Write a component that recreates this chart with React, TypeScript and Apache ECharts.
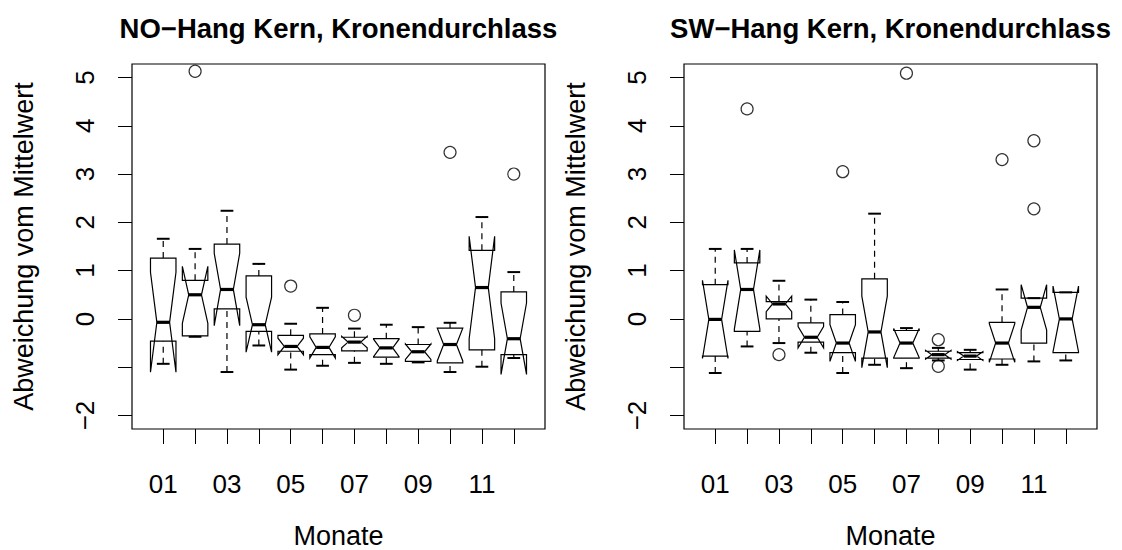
import React, { useEffect, useRef } from "react";
import * as echarts from "echarts";

// ---------- data ----------
const months = ["01", "02", "03", "04", "05", "06", "07", "08", "09", "10", "11", "12"];

// NO-Hang panel
const noLow = [-0.93, -0.37, -1.1, -0.55, -1.05, -0.97, -0.91, -0.93, -0.9, -1.1, -0.99, -0.81];
const noQ1 = [-0.46, -0.35, 0.21, -0.26, -0.67, -0.74, -0.66, -0.79, -0.88, -0.91, -0.64, -0.74];
const noMed = [-0.07, 0.5, 0.61, -0.12, -0.57, -0.59, -0.48, -0.6, -0.68, -0.53, 0.65, -0.41];
const noQ3 = [1.26, 0.8, 1.55, 0.89, -0.34, -0.31, -0.38, -0.41, -0.53, -0.19, 1.42, 0.56];
const noHigh = [1.66, 1.45, 2.24, 1.14, -0.1, 0.23, -0.2, -0.12, -0.17, -0.08, 2.11, 0.97];
const noNotch = [1.035, 0.59, 0.75, 0.57, 0.17, 0.22, 0.12, 0.18, 0.16, 0.34, 1.06, 0.74];
const noOutliers = [
  [2, 5.13],
  [5, 0.68],
  [7, 0.075],
  [10, 3.45],
  [12, 3.0],
];

// SW-Hang panel
const swLow = [-1.12, -0.57, -0.5, -0.7, -1.12, -0.95, -1.02, -0.86, -1.05, -0.95, -0.88, -0.86];
const swQ1 = [-0.77, -0.26, 0.0, -0.48, -0.7, -0.81, -0.81, -0.81, -0.84, -0.83, -0.5, -0.7];
const swMed = [-0.01, 0.61, 0.31, -0.38, -0.5, -0.27, -0.5, -0.74, -0.77, -0.5, 0.24, 0.0];
const swQ3 = [0.71, 1.16, 0.36, -0.08, 0.09, 0.83, -0.24, -0.67, -0.7, -0.07, 0.43, 0.55];
const swHigh = [1.45, 1.45, 0.79, 0.4, 0.35, 2.18, -0.19, -0.6, -0.64, 0.61, 0.43, 0.55];
const swNotch = [0.81, 0.82, 0.16, 0.22, 0.38, 0.74, 0.3, 0.09, 0.09, 0.4, 0.47, 0.68];
const swOutliers = [
  [2, 4.35],
  [3, -0.74],
  [5, 3.05],
  [7, 5.09],
  [8, -0.43],
  [8, -0.98],
  [10, 3.3],
  [11, 3.69],
  [11, 2.28],
];

// ticks / labels
const xTickValues = [1, 2, 3, 4, 5, 6, 7, 8, 9, 10, 11, 12];
const xLabelValues = [1, 3, 5, 7, 9, 11];
const yTickValues = [-2, -1, 0, 1, 2, 3, 4, 5];
const yLabelValues = [-2, 0, 1, 2, 3, 4, 5];

const titles = ["NO\u2212Hang Kern, Kronendurchlass", "SW\u2212Hang Kern, Kronendurchlass"];
const xTitle = "Monate";
const yTitle = "Abweichung vom Mittelwert";

// ---------- helpers ----------
const FONT = "'Liberation Sans', Arial, Helvetica, sans-serif";
const TICK_FS = 26;
const LAB_FS = 27;

function boxData(low: number[], q1: number[], med: number[], q3: number[], high: number[], notch: number[]) {
  return months.map((_, i) => [i + 1, low[i], q1[i], med[i], q3[i], high[i], notch[i]]);
}

const LW = 1.2;

function renderBox(params: any, api: any) {
  const x = api.value(0);
  const lo = api.value(1);
  const q1 = api.value(2);
  const md = api.value(3);
  const q3 = api.value(4);
  const hi = api.value(5);
  const nh = api.value(6);
  const cLo = md - nh;
  const cHi = md + nh;
  const w = 0.4;
  const nf = 0.5;
  const sw = 0.5;
  const P = (dx: number, v: number) => api.coord([x + dx * w, v]);
  const line = (a: number[], b: number[], lw: number, dash?: number[]) => ({
    type: "line",
    shape: { x1: a[0], y1: a[1], x2: b[0], y2: b[1] },
    style: dash
      ? { stroke: "#000", lineWidth: lw, lineDash: dash }
      : { stroke: "#000", lineWidth: lw },
  });
  const poly = [
    P(-1, q1), P(1, q1), P(1, cLo), P(nf, md), P(1, cHi),
    P(1, q3), P(-1, q3), P(-1, cHi), P(-nf, md), P(-1, cLo),
  ];
  return {
    type: "group",
    children: [
      line(P(0, lo), P(0, q1), LW, [6, 5]),
      line(P(0, q3), P(0, hi), LW, [6, 5]),
      line(P(-sw, lo), P(sw, lo), 2),
      line(P(-sw, hi), P(sw, hi), 2),
      {
        type: "polygon",
        shape: { points: poly },
        style: { fill: "rgba(0,0,0,0)", stroke: "#000", lineWidth: LW },
      },
      line(P(-nf, md), P(nf, md), 3.2),
    ],
  };
}

const GRIDS = [
  { left: 132, top: 64, width: 413, height: 365 },
  { left: 684, top: 64, width: 413, height: 365 },
];

function axisPair(i: number) {
  const x = {
    type: "value",
    gridIndex: i,
    position: "bottom",
    min: 0.02,
    max: 12.98,
    axisLine: { show: false, onZero: false },
    splitLine: { show: false },
    axisTick: {
      show: true,
      length: 15,
      inside: false,
      customValues: xTickValues,
      lineStyle: { color: "#000", width: 1 },
    },
    axisLabel: {
      show: true,
      customValues: xLabelValues,
      formatter: (v: number) => months[Math.round(v) - 1] || "",
      color: "#000",
      fontFamily: FONT,
      fontSize: TICK_FS,
      margin: 42,
    },
  };
  const y = {
    type: "value",
    gridIndex: i,
    position: "left",
    min: -2.28,
    max: 5.28,
    axisLine: { show: false, onZero: false },
    splitLine: { show: false },
    axisTick: {
      show: true,
      length: 14,
      inside: false,
      customValues: yTickValues,
      lineStyle: { color: "#000", width: 1 },
    },
    axisLabel: {
      show: true,
      customValues: yLabelValues,
      rotate: 90,
      formatter: (v: number) => (v < 0 ? "\u2212" + Math.abs(v) : String(v)),
      color: "#000",
      fontFamily: FONT,
      fontSize: TICK_FS,
      margin: 34,
    },
  };
  return { x, y };
}

export default function App() {
  const ref = useRef<HTMLDivElement>(null);
  useEffect(() => {
    if (!ref.current) return;
    const chart = echarts.init(ref.current, null, { renderer: "svg" });
    const a0 = axisPair(0);
    const a1 = axisPair(1);
    const centers = GRIDS.map((g) => g.left + g.width / 2);
    const option: any = {
      animation: false,
      backgroundColor: "#fff",
      grid: GRIDS.map((g) => ({
        ...g,
        show: true,
        borderColor: "#000",
        borderWidth: 1.2,
        backgroundColor: "rgba(0,0,0,0)",
      })),
      xAxis: [a0.x, a1.x],
      yAxis: [a0.y, a1.y],
      graphic: [
        ...titles.map((t, i) => ({
          type: "text",
          x: centers[i],
          y: 28,
          style: {
            text: t,
            font: `bold 27.5px ${FONT}`,
            fill: "#000",
            textAlign: "center",
            textVerticalAlign: "middle",
          },
        })),
        ...centers.map((c) => ({
          type: "text",
          x: c,
          y: 536,
          style: {
            text: xTitle,
            font: `${LAB_FS}px ${FONT}`,
            lineHeight: 22,
            fill: "#000",
            textAlign: "center",
            textVerticalAlign: "middle",
          },
        })),
        ...GRIDS.map((g) => ({
          type: "text",
          x: g.left - 108,
          y: g.top + g.height / 2,
          rotation: Math.PI / 2,
          style: {
            text: yTitle,
            font: `${LAB_FS}px ${FONT}`,
            fill: "#000",
            textAlign: "center",
            textVerticalAlign: "middle",
          },
        })),
      ],
      series: [
        {
          type: "custom",
          xAxisIndex: 0,
          yAxisIndex: 0,
          renderItem: renderBox,
          data: boxData(noLow, noQ1, noMed, noQ3, noHigh, noNotch),
          clip: false,
        },
        {
          type: "scatter",
          xAxisIndex: 0,
          yAxisIndex: 0,
          symbol: "circle",
          symbolSize: 12,
          itemStyle: { color: "rgba(0,0,0,0)", borderColor: "#000", borderWidth: LW },
          data: noOutliers,
        },
        {
          type: "custom",
          xAxisIndex: 1,
          yAxisIndex: 1,
          renderItem: renderBox,
          data: boxData(swLow, swQ1, swMed, swQ3, swHigh, swNotch),
          clip: false,
        },
        {
          type: "scatter",
          xAxisIndex: 1,
          yAxisIndex: 1,
          symbol: "circle",
          symbolSize: 12,
          itemStyle: { color: "rgba(0,0,0,0)", borderColor: "#000", borderWidth: LW },
          data: swOutliers,
        },
      ],
    };
    chart.setOption(option);
    return () => chart.dispose();
  }, []);
  return (
    <div
      ref={ref}
      style={{ position: "absolute", left: 0, top: 0, width: 1122, height: 550, background: "#fff" }}
    />
  );
}
